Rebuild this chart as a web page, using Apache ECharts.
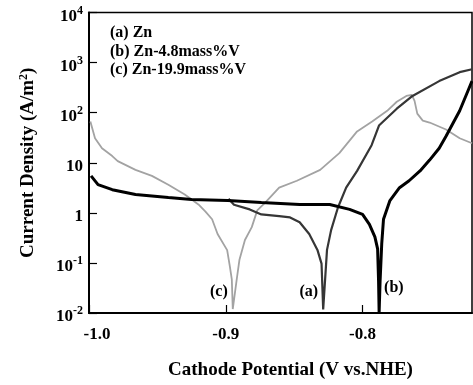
<!DOCTYPE html>
<html>
<head>
<meta charset="utf-8">
<script src="https://cdn.jsdelivr.net/npm/echarts@6/dist/echarts.min.js"></script>
<style>
  html, body { margin: 0; padding: 0; background: #fff; }
  #chart { width: 473px; height: 385px; }
</style>
</head>
<body>
<div id="chart"></div>
<script>
// Cathodic polarization curves: potential (V vs. NHE) and current density (A/m^2)

// (a) Zn
const znPotential = [-0.898, -0.894, -0.8825, -0.874, -0.861, -0.853, -0.846, -0.839, -0.833, -0.830,
  -0.8288, -0.826, -0.823, -0.818, -0.812, -0.804, -0.7934, -0.788, -0.775, -0.7635, -0.744, -0.729, -0.720];
const znCurrent = [1.9, 1.45, 1.17, 0.93, 0.86, 0.81, 0.65, 0.377, 0.182, 0.097,
  0.0118, 0.182, 0.452, 1.28, 3.18, 6.88, 22.4, 55.4, 120, 216, 427, 643, 736];

// (b) Zn-4.8mass%V
const zn48Potential = [-0.9985, -0.9934, -0.983, -0.966, -0.942, -0.925, -0.8985, -0.874, -0.846, -0.824,
  -0.8095, -0.800, -0.795, -0.791, -0.789, -0.7883, -0.7879, -0.7872, -0.786, -0.7847,
  -0.780, -0.773, -0.766, -0.758, -0.751, -0.744, -0.739, -0.729, -0.723, -0.720];
const zn48Current = [5.48, 3.65, 2.9, 2.32, 2.02, 1.84, 1.76, 1.61, 1.47, 1.47,
  1.17, 0.93, 0.59, 0.33, 0.19, 0.043, 0.0101, 0.043, 0.239, 0.745,
  1.76, 3.18, 4.37, 6.88, 11.3, 19.5, 33.7, 109, 271, 427];

// (c) Zn-19.9mass%V
const zn199Potential = [-0.999, -0.9956, -0.9905, -0.983, -0.979, -0.966, -0.954, -0.942, -0.930, -0.920,
  -0.915, -0.910, -0.906, -0.899, -0.897, -0.8956, -0.8949, -0.892, -0.890, -0.886,
  -0.881, -0.877, -0.871, -0.861, -0.848, -0.831, -0.817, -0.804, -0.793, -0.782,
  -0.775, -0.768, -0.764, -0.762, -0.760, -0.756, -0.751, -0.739, -0.729, -0.720];
const zn199Current = [66.5, 30.8, 19.5, 13.6, 10.8, 7.2, 5.48, 3.65, 2.32, 1.47,
  1.07, 0.745, 0.377, 0.18, 0.084, 0.047, 0.012, 0.047, 0.116, 0.287,
  0.518, 1.12, 1.61, 3.18, 4.37, 7.2, 15.6, 42.2, 66.5, 109,
  165, 216, 226, 172, 95.5, 69.5, 63.5, 46.2, 30.8, 24.5];

const legendLines = ['(a) Zn', '(b) Zn-4.8mass%V', '(c) Zn-19.9mass%V'];
const curveTags = ['(a)', '(b)', '(c)'];
const xTitle = 'Cathode Potential (V vs.NHE)';
const yTitle = 'Current Density (A/m{sup|2})';

const serif = '"Times New Roman", "Liberation Serif", serif';

function pairs(xs, ys) {
  return xs.map((x, i) => [x, ys[i]]);
}

function decadeLabel(v) {
  const e = Math.round(Math.log10(v));
  if (e === 0) return '{b|1}';
  if (e === 1) return '{b|10}';
  return '{b|10}{s|' + e + '}';
}

function tagLabel(text, position, dy) {
  return {
    symbol: 'circle',
    symbolSize: 0,
    silent: true,
    data: [{ type: 'min', valueDim: 'y' }],
    label: {
      show: true,
      formatter: text,
      position: position,
      distance: 5,
      offset: [0, dy],
      color: '#000',
      fontFamily: serif,
      fontWeight: 'bold',
      fontSize: 16
    }
  };
}

const chart = echarts.init(document.getElementById('chart'), null, { renderer: 'canvas' });

chart.setOption({
  animation: false,
  backgroundColor: '#fff',
  grid: {
    left: 89, right: 1, top: 12.5, bottom: 68,
    show: true, borderColor: '#000', borderWidth: 1.5
  },
  xAxis: {
    type: 'value',
    min: -1.0, max: -0.72, interval: 0.1,
    name: xTitle,
    nameLocation: 'middle',
    nameGap: 48,
    nameTextStyle: {
      fontFamily: serif, fontWeight: 'bold', fontSize: 19, color: '#000',
      padding: [0, 0, 0, 20]
    },
    axisLine: { lineStyle: { color: '#000', width: 2 } },
    axisTick: { inside: true, length: 8, lineStyle: { color: '#000', width: 1.2 } },
    splitLine: { show: false },
    axisLabel: {
      showMaxLabel: false,
      margin: 13,
      color: '#000', fontFamily: serif, fontWeight: 'bold', fontSize: 17,
      formatter: v => (Math.abs(v + 1) < 1e-9 ? '{m|' + v.toFixed(1) + '}' : v.toFixed(1)),
      rich: { m: { fontFamily: serif, fontWeight: 'bold', fontSize: 17, color: '#000', padding: [0, 0, 0, 16] } }
    }
  },
  yAxis: {
    type: 'log',
    logBase: 10,
    min: 0.01, max: 10000,
    splitNumber: 6,
    name: yTitle,
    nameLocation: 'middle',
    nameGap: 50,
    nameRotate: 90,
    nameTextStyle: {
      fontFamily: serif, fontWeight: 'bold', fontSize: 19, color: '#000',
      rich: { sup: { fontFamily: serif, fontWeight: 'bold', fontSize: 12, color: '#000', padding: [0, 0, 9, 0] } }
    },
    axisLine: { lineStyle: { color: '#000', width: 2 } },
    axisTick: { inside: true, length: 8, lineStyle: { color: '#000', width: 1.2 } },
    splitLine: { show: false },
    minorTick: { show: false },
    axisLabel: {
      margin: 6,
      formatter: decadeLabel,
      padding: [8, 0, 0, 0],
      rich: {
        b: { fontFamily: serif, fontWeight: 'bold', fontSize: 17, color: '#000' },
        s: { fontFamily: serif, fontWeight: 'bold', fontSize: 12, color: '#000', padding: [0, 0, 12, 0] }
      }
    }
  },
  graphic: legendLines.map((t, i) => ({
    type: 'text',
    left: 110,
    top: 25 + i * 18.5,
    style: { text: t, fill: '#000', font: 'bold 16px ' + serif }
  })),
  series: [
    {
      name: legendLines[2],
      type: 'line',
      data: pairs(zn199Potential, zn199Current),
      showSymbol: false,
      lineStyle: { color: '#a3a3a3', width: 1.8 },
      z: 2,
      markPoint: tagLabel(curveTags[2], 'left', -17)
    },
    {
      name: legendLines[0],
      type: 'line',
      data: pairs(znPotential, znCurrent),
      showSymbol: false,
      lineStyle: { color: '#363636', width: 2.2 },
      z: 3,
      markPoint: tagLabel(curveTags[0], 'left', -18)
    },
    {
      name: legendLines[1],
      type: 'line',
      data: pairs(zn48Potential, zn48Current),
      showSymbol: false,
      lineStyle: { color: '#000', width: 3 },
      z: 4,
      markPoint: tagLabel(curveTags[1], 'right', -25)
    }
  ]
});
</script>
</body>
</html>
